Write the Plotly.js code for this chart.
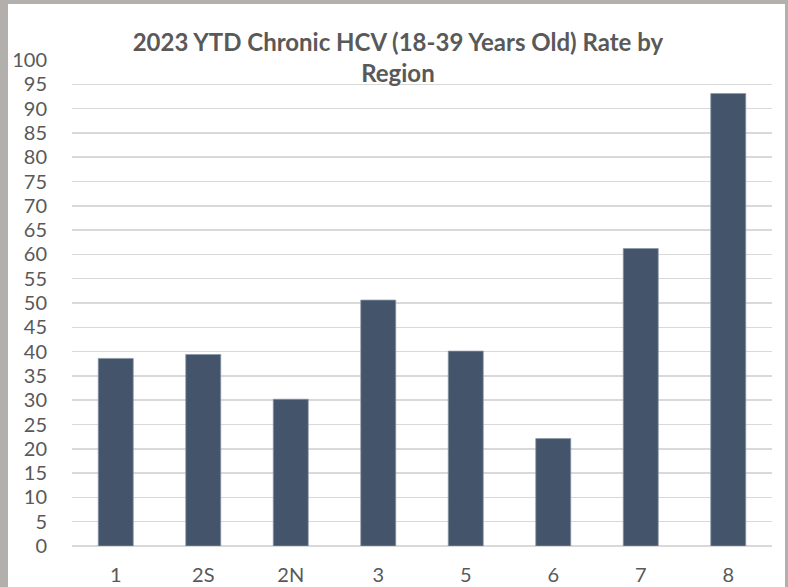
<!DOCTYPE html>
<html>
<head>
<meta charset="utf-8">
<script src="https://cdn.plot.ly/plotly-3.0.1.min.js"></script>
<style>html,body{margin:0;padding:0;background:#fff;}#chart{width:788px;height:587px;}</style>
</head>
<body>
<div id="chart"></div>
<script>
const regions = ["1", "2S", "2N", "3", "5", "6", "7", "8"];
const rates = [38.6, 39.4, 30.2, 50.6, 40.1, 22.1, 61.2, 93.1];
const yTicks = [0,5,10,15,20,25,30,35,40,45,50,55,60,65,70,75,80,85,90,95,100];
const chartTitle = "2023 YTD Chronic HCV (18-39 Years Old) Rate by<br>Region";

const trace = {
  type: "bar",
  x: regions,
  y: rates,
  marker: {color: "#44546A", line: {color: "#8a97a8", width: 0.75}},
  hoverinfo: "x+y"
};

const layout = {
  width: 788, height: 587,
  paper_bgcolor: "#b3afad",
  plot_bgcolor: "#ffffff",
  margin: {l: 72, r: 16, t: 60, b: 41, pad: 0},
  bargap: 0.6,
  showlegend: false,
  title: {
    text: chartTitle,
    font: {family: "Lato", size: 24, color: "#595959", weight: "bold"},
    x: 0.505, xref: "container", xanchor: "center",
    y: 0.913, yref: "container", yanchor: "middle"
  },
  xaxis: {
    type: "category",
    showgrid: false, zeroline: false, showline: false,
    ticks: "", ticklabelstandoff: 15,
    tickfont: {family: "Lato", size: 20, color: "#595959"}
  },
  yaxis: {
    range: [0, 100], tickvals: yTicks,
    showgrid: true, gridcolor: "#d9d9d9", gridwidth: 1.5,
    zeroline: true, zerolinecolor: "#d9d9d9", zerolinewidth: 1.5,
    showline: false, ticks: "", ticklabelstandoff: 24,
    tickfont: {family: "Lato", size: 20, color: "#595959"}
  },
  shapes: [{
    type: "rect", xref: "paper", yref: "paper", layer: "below",
    x0: -0.0914, x1: 1.0186, y0: -0.0844, y1: 1.1152,
    fillcolor: "#ffffff", line: {width: 0}
  }]
};

Plotly.newPlot("chart", [trace], layout, {displayModeBar: false, staticPlot: true});
</script>
</body>
</html>
